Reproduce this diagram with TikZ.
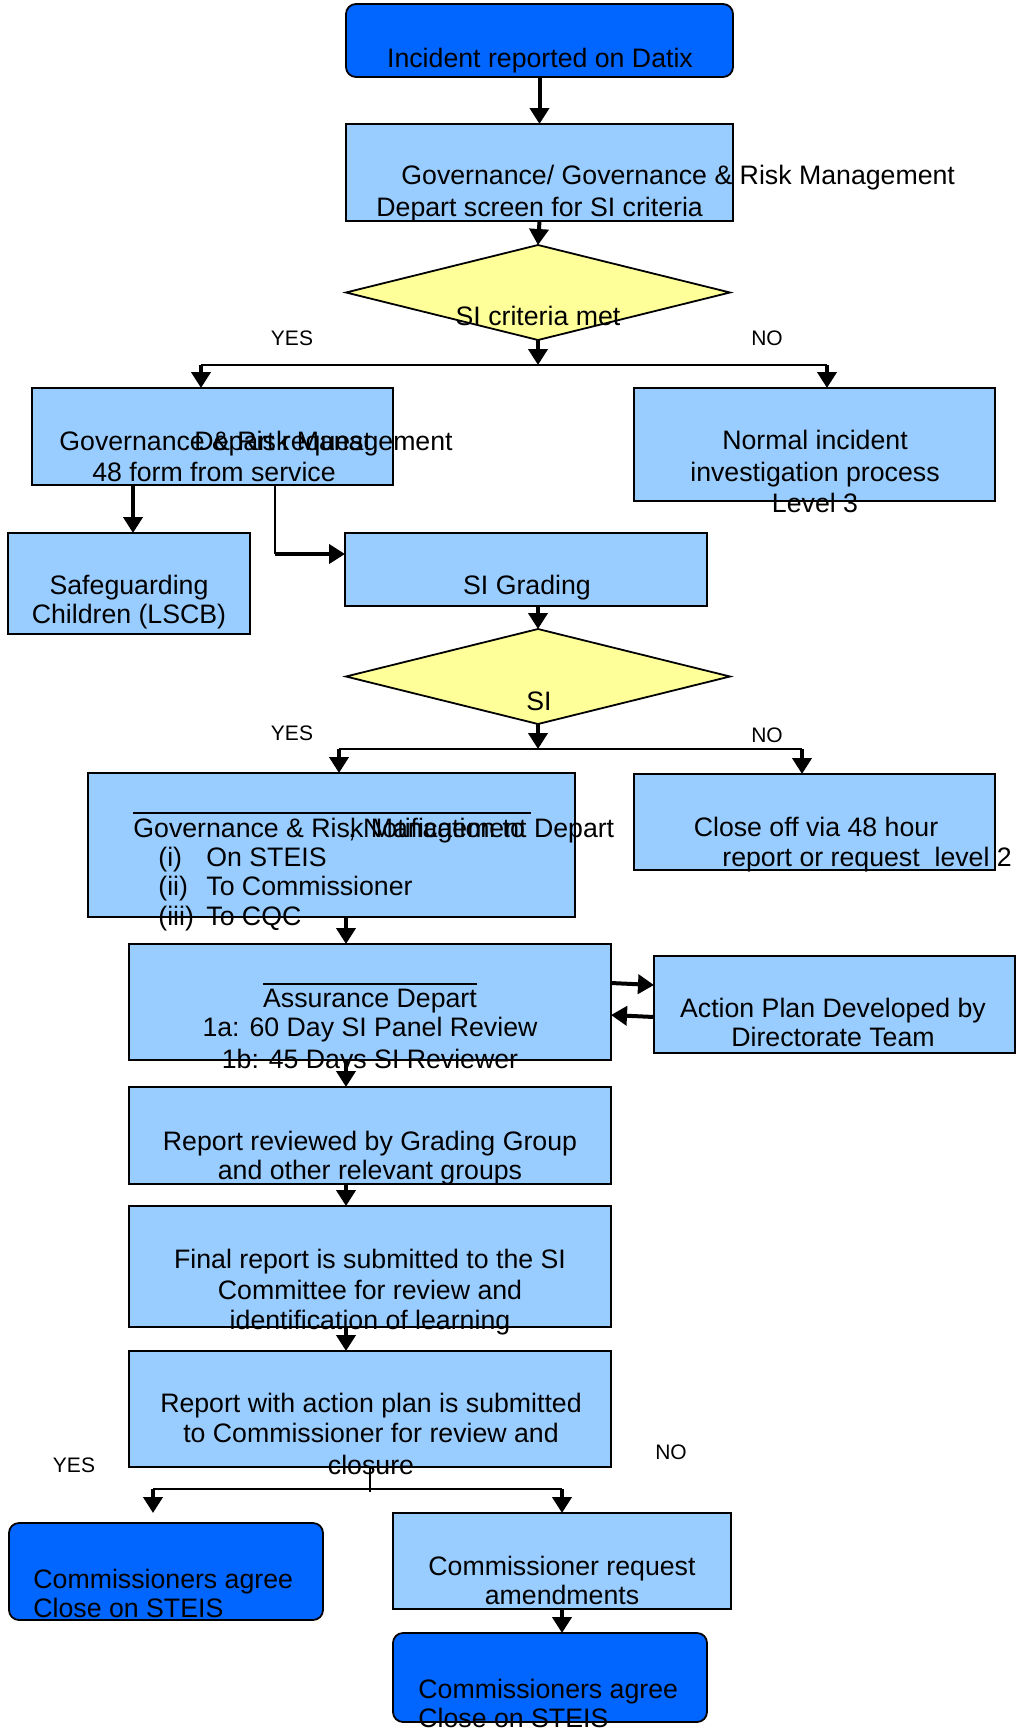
\documentclass[tikz,border=0pt]{standalone}
\usepackage{fontspec}
\setmainfont{Liberation Sans}
\usetikzlibrary{arrows.meta,shapes.geometric,fit}
\definecolor{lblue}{HTML}{99CCFF}
\definecolor{dblue}{HTML}{0066FF}
\definecolor{ylw}{HTML}{FFFF99}
\begin{document}
\begin{tikzpicture}[x=0.5pt,y=-0.5pt,
  box/.style={draw=black, line width=0.9pt, fill=lblue, inner sep=0pt, outer sep=0pt},
  rbox/.style={box, fill=dblue, rounded corners=5pt},
  dmd/.style={diamond, draw=black, line width=0.9pt, fill=ylw, inner sep=0pt, outer sep=0pt, minimum width=192pt, minimum height=47.5pt},
  txt/.style={inner sep=0pt, anchor=base, font=\fontsize{13.35}{15}\selectfont},
  txtl/.style={txt, anchor=base west},
  lbl/.style={inner sep=0pt, anchor=base, font=\fontsize{10.5}{12}\selectfont},
  arr/.style={line width=2pt, -{Triangle[length=8pt,width=9.5pt]}},
  thinline/.style={line width=1pt},
  ovl/.style={line width=1.2pt},
]
\useasboundingbox (0,0) rectangle (1018,1730);
% boxes
\node[rbox, fit={(346,4) (733,77)}] (b1) {};
\node[box, fit={(346,124) (733,221)}] (b2) {};
\node[dmd] (d1) at (538,292.5) {};
\node[box, fit={(32,388) (393,485)}] (grm) {};
\node[box, fit={(634,388) (995,501)}] (ni) {};
\node[box, fit={(8,533) (250,634)}] (sg) {};
\node[box, fit={(345,533) (707,606)}] (sig) {};
\node[dmd] (d2) at (538,676.5) {};
\node[box, fit={(88,773) (575,917)}] (nt) {};
\node[box, fit={(634,774) (995,870)}] (co) {};
\node[box, fit={(129,944) (611,1060)}] (as) {};
\node[box, fit={(654,956) (1015,1053)}] (ap) {};
\node[box, fit={(129,1087) (611,1184)}] (rr) {};
\node[box, fit={(129,1206) (611,1327)}] (fr) {};
\node[box, fit={(129,1351) (611,1467)}] (rp) {};
\node[rbox, fit={(9,1523) (323,1620)}] (ca1) {};
\node[box, fit={(393,1513) (731,1609)}] (cr) {};
\node[rbox, fit={(393,1633) (707,1722)}] (ca2) {};
% helper coordinates
\coordinate (j1) at (538,365);
\coordinate (j1l) at (201,365);
\coordinate (j1r) at (827,365);
\coordinate (x133) at (133,0);
\coordinate (e1) at (275,554);
\coordinate (j2) at (538,749);
\coordinate (j2l) at (339,749);
\coordinate (j2r) at (802,749);
\coordinate (cx) at (346,0);
\coordinate (j3b) at (370,1492);
\coordinate (j3l) at (153,1489);
\coordinate (j3r) at (562,1489);
\coordinate (t3l) at (153,1513);
% connectors
\draw[arr] (b1.south) -- (b2.north);
\draw[arr] (b2.south) -- (d1.north);
\draw[arr] (d1.south) -- (j1);
\draw[thinline] (j1l) -- (j1r);
\draw[arr] (j1l) -- (j1l |- grm.north);
\draw[arr] (j1r) -- (j1r |- ni.north);
\draw[arr] (x133 |- grm.south) -- (x133 |- sg.north);
\draw[thinline] (e1 |- grm.south) -- (e1);
\draw[arr] (e1) -- (e1 -| sig.west);
\draw[arr] (d2.north |- sig.south) -- (d2.north);
\draw[arr] (d2.south) -- (j2);
\draw[thinline] (j2l) -- (j2r);
\draw[arr] (j2l) -- (j2l |- nt.north);
\draw[arr] (j2r) -- (j2r |- co.north);
\draw[arr] (cx |- nt.south) -- (cx |- as.north);
\draw[arr] (as.east |- 0,983) -- (ap.west |- 0,985);
\draw[arr] (ap.west |- 0,1017) -- (as.east |- 0,1015);
\draw[arr] (cx |- as.south) -- (cx |- rr.north);
\draw[arr] (cx |- rr.south) -- (cx |- fr.north);
\draw[arr] (cx |- fr.south) -- (cx |- rp.north);
\draw[line width=0.6pt] (j3b |- rp.south) -- (j3b);
\draw[thinline] (j3l) -- (j3r);
\draw[arr] (j3l) -- (t3l);
\draw[arr] (j3r) -- (j3r |- cr.north);
\draw[arr] (cr.south) -- (cr.south |- ca2.north);
% overlines
\draw[ovl] (133,813) -- (531,813);
\draw[ovl] (263,984) -- (477,984);
% texts
\node[txt] (t1) at (540,67) {Incident reported on Datix};
\node[txtl] (t2a) at (401,184) {Governance/ Governance \& Risk Management};
\node[txtl] (t2b) at (376,216) {Depart screen for SI criteria};
\node[txt] (t3) at (538,325) {SI criteria met};
\node[lbl] (y1) at (292,345) {YES};
\node[lbl] (n1) at (767,345) {NO};
\node[txtl] (t4a) at (59,450) {Governance \& Risk Management};
\node[txtl] (t4b) at (194,450) {Depart request};
\node[txt] (t4c) at (214,481) {48 form from service};
\node[txt] (t5a) at (815,449) {Normal incident};
\node[txt] (t5b) at (815,481) {investigation process};
\node[txt] (t5c) at (815,512) {Level 3};
\node[txt] (t6a) at (129,594) {Safeguarding};
\node[txt] (t6b) at (129,623) {Children (LSCB)};
\node[txt] (t7) at (527,594) {SI Grading};
\node[txt] (t8) at (539,710) {SI};
\node[lbl] (y2) at (292,740) {YES};
\node[lbl] (n2) at (767,742) {NO};
\node[txtl] (t9a) at (133,837) {Governance \& Risk Management Depart};
\node[txtl] (t9b) at (348,837) {, Notification to};
\node[txtl] (t9c) at (158,866) {(i)};
\node[txtl] (t9d) at (206,866) {On STEIS};
\node[txtl] (t9e) at (158,895) {(ii)};
\node[txtl] (t9f) at (206,895) {To Commissioner};
\node[txtl] (t9g) at (158,925) {(iii)};
\node[txtl] (t9h) at (206,925) {To CQC};
\node[txt] (t10a) at (816,836) {Close off via 48 hour};
\node[txtl] (t10b) at (722,866) {report or request\ \ level 2};
\node[txt] (t11a) at (370,1007) {Assurance Depart};
\node[txt] (t11b) at (370,1036) {1a: 60 Day SI Panel Review};
\node[txt] (t11c) at (370,1068) {1b: 45 Days SI Reviewer};
\node[txt] (t12a) at (833,1017) {Action Plan Developed by};
\node[txt] (t12b) at (833,1046) {Directorate Team};
\node[txt] (t13a) at (370,1150) {Report reviewed by Grading Group};
\node[txt] (t13b) at (370,1179) {and other relevant groups};
\node[txt] (t14a) at (370,1268) {Final report is submitted to the SI};
\node[txt] (t14b) at (370,1299) {Committee for review and};
\node[txt] (t14c) at (370,1329) {identification of learning};
\node[txt] (t15a) at (371,1412) {Report with action plan is submitted};
\node[txt] (t15b) at (371,1442) {to Commissioner for review and};
\node[txt] (t15c) at (371,1474) {closure};
\node[lbl] (y3) at (74,1472) {YES};
\node[lbl] (n3) at (671,1459) {NO};
\node[txtl] (t16a) at (33,1588) {Commissioners agree};
\node[txtl] (t16b) at (33,1617) {Close on STEIS};
\node[txt] (t17a) at (562,1575) {Commissioner request};
\node[txt] (t17b) at (562,1604) {amendments};
\node[txtl] (t18a) at (418,1698) {Commissioners agree};
\node[txtl] (t18b) at (418,1727) {Close on STEIS};
\end{tikzpicture}
\end{document}
